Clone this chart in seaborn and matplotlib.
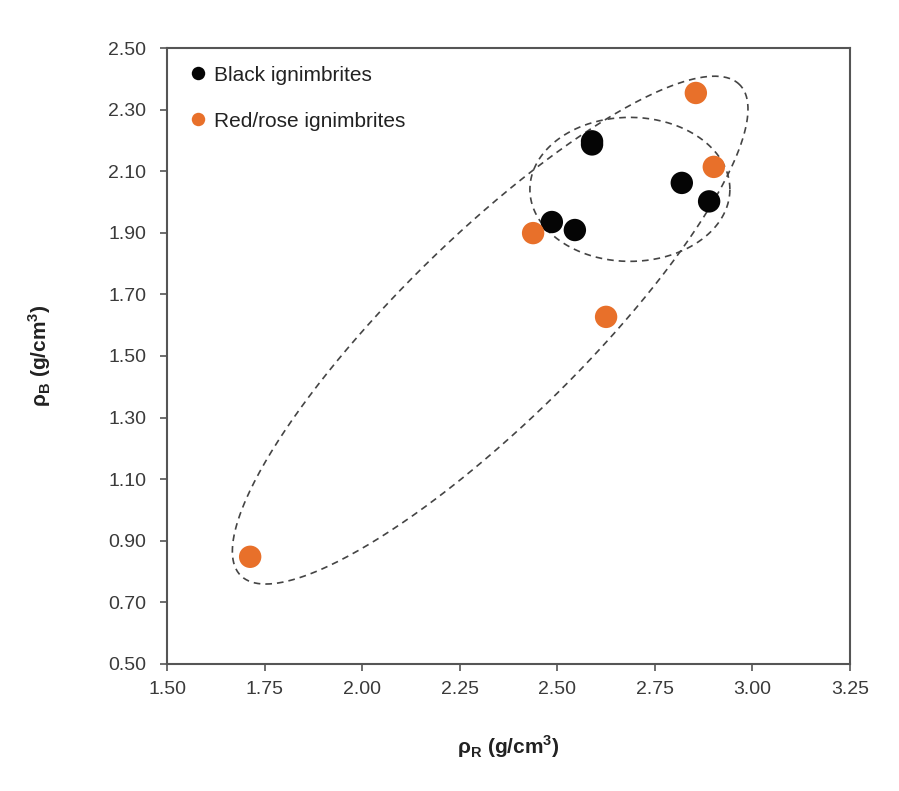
import numpy as np
import pandas as pd
import matplotlib
matplotlib.use("Agg")
import matplotlib.pyplot as plt
import seaborn as sns

# ── Data ──────────────────────────────────────────────────────────────────
black_rho_r = [2.589, 2.589, 2.819, 2.889, 2.486, 2.545]
black_rho_b = [2.197, 2.187, 2.062, 2.002, 1.935, 1.909]
red_rho_r   = [2.855, 2.901, 2.438, 2.625, 1.713]
red_rho_b   = [2.354, 2.114, 1.899, 1.627, 0.848]
groups      = ["Black ignimbrites", "Red/rose ignimbrites"]
x_ticks     = [1.50, 1.75, 2.00, 2.25, 2.50, 2.75, 3.00, 3.25]
y_ticks     = [0.50, 0.70, 0.90, 1.10, 1.30, 1.50, 1.70, 1.90, 2.10, 2.30, 2.50]

# dashed envelopes: centre (data), semi-axes (px of reference), tilt (deg)
big_ell   = dict(cx=2.328, cy=1.584, a=350, b=92, ang=44.5)
small_ell = dict(cx=2.686, cy=2.041, a=100, b=72, ang=0)

df = pd.DataFrame({
    "rho_r": black_rho_r + red_rho_r,
    "rho_b": black_rho_b + red_rho_b,
    "group": [groups[0]] * len(black_rho_r) + [groups[1]] * len(red_rho_r),
})

sns.set_theme(style="white")
plt.rcParams["font.family"] = ["Liberation Sans", "DejaVu Sans"]
plt.rcParams["mathtext.fontset"] = "custom"
plt.rcParams["mathtext.bf"] = "Liberation Sans:bold"
plt.rcParams["mathtext.rm"] = "Liberation Sans"

fig = plt.figure(figsize=(8.99, 7.91), dpi=100)
ax = fig.add_axes([0.1858, 0.1606, 0.7597, 0.7787])

palette = {groups[0]: "#050505", groups[1]: "#E8702A"}
sns.scatterplot(data=df, x="rho_r", y="rho_b", hue="group", palette=palette,
                s=260, edgecolor="none", ax=ax, zorder=3)

ax.set_xlim(1.50, 3.25)
ax.set_ylim(0.50, 2.50)

# px per data unit in the reference
px_x = 683 / 1.75
px_y = 616 / 2.0
t = np.linspace(0, 2 * np.pi, 400)
for e in (big_ell, small_ell):
    th = np.deg2rad(e["ang"])
    ex = e["cx"] + (e["a"] * np.cos(t) * np.cos(th) - e["b"] * np.sin(t) * np.sin(th)) / px_x
    ey = e["cy"] + (e["a"] * np.cos(t) * np.sin(th) + e["b"] * np.sin(t) * np.cos(th)) / px_y
    ax.plot(ex, ey, color="#444444", linestyle=(0, (4, 3)), linewidth=1.2, zorder=2)

ax.set_xticks(x_ticks)
ax.set_yticks(y_ticks)
ax.set_xticklabels([f"{v:.2f}" for v in x_ticks])
ax.set_yticklabels([f"{v:.2f}" for v in y_ticks])
ax.tick_params(axis="both", direction="out", length=5, width=1.2,
               colors="#555555", labelcolor="#3a3a3a", labelsize=14,
               left=True, bottom=True)
ax.tick_params(axis="y", pad=10)
ax.tick_params(axis="x", pad=7)

for sp in ax.spines.values():
    sp.set_visible(True)
    sp.set_color("#555555")
    sp.set_linewidth(1.5)

ax.set_xlabel(r"ρ$_\mathbf{R}$ (g/cm$^\mathbf{3}$)", fontsize=15,
              fontweight="bold", color="#222222", labelpad=26)
ax.set_ylabel(r"ρ$_\mathbf{B}$ (g/cm$^\mathbf{3}$)", fontsize=15,
              fontweight="bold", color="#222222", labelpad=40)

leg = ax.legend(loc="upper left", frameon=False, fontsize=15, markerscale=0.6,
                handletextpad=0.25, borderaxespad=0.0, labelspacing=1.3,
                handlelength=1.0, bbox_to_anchor=(0.018, 0.985))
for txt in leg.get_texts():
    txt.set_color("#222222")

fig.savefig("out.png", dpi=100)
